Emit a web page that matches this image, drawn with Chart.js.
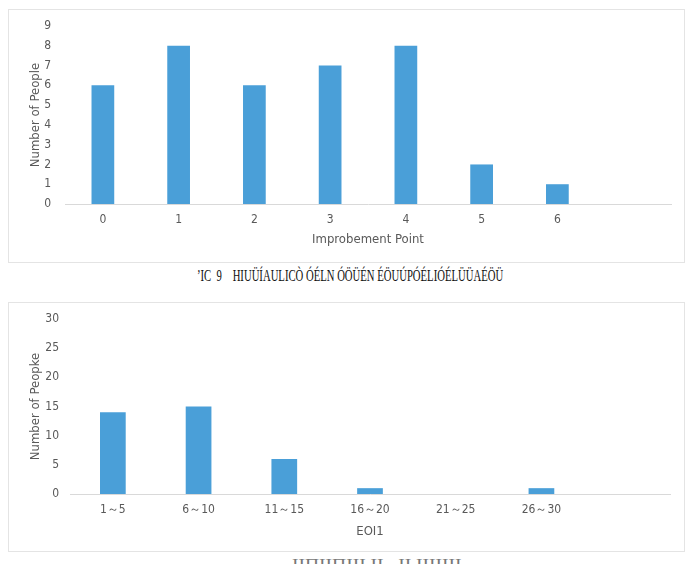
<!DOCTYPE html>
<html>
<head>
<meta charset="utf-8">
<script src="https://cdn.jsdelivr.net/npm/chart.js@4"></script>
<style>
  body { margin: 0; background: #fff; width: 687px; height: 564px; overflow: hidden; position: relative; }
  .panel { position: absolute; left: 8px; width: 675px; border: 1px solid #e4e4e4; background: #fff; }
  .cap { position: absolute; white-space: pre; font-family: 'Liberation Serif', serif; color: #111; transform-origin: left top; }
</style>
</head>
<body>
<div class="panel" style="top:9px;height:252px;"><canvas id="chart1"></canvas></div>
<div class="cap" id="cap1" style="left:197px;top:267px;font-size:16px;">ʼIC  9    HIUÜÍAULICÒ ÓÉLN ÓÖÜÉN ÉÖUÚPÓÉLIÓÉLÜÜAÉÖÜ</div>
<div class="panel" style="top:302px;height:248px;"><canvas id="chart2"></canvas></div>
<div class="cap" id="cap2" style="left:292px;top:557px;font-size:14px;color:#777;">IIΠIIΠIII II   II IIIIIII</div>
<script>
document.addEventListener('DOMContentLoaded', () => {
    // dữ liệu biểu đồ 1
    const pointLabels = ['0', '1', '2', '3', '4', '5', '6', ''];
    const pointCounts = [6, 8, 6, 7, 8, 2, 1, null];
    const pointTicks = [0, 1, 2, 3, 4, 5, 6, 7, 8, 9];

    // dữ liệu biểu đồ 2
    const eoiLabels = ['1～5', '6～10', '11～15', '16～20', '21～25', '26～30', ''];
    const eoiCounts = [14, 15, 6, 1, 0, 1, null];
    const eoiTicks = [0, 5, 10, 15, 20, 25, 30];

    const barColor = '#4a9fd8';
    const textColor = '#595959';
    const fontFamily = "'Liberation Sans Narrow', 'DejaVu Sans Condensed', sans-serif";

    function makeChart(id, labels, values, ticks, xTitle, yTitle, opt) {
        const ctx = document.getElementById(id).getContext('2d');
        return new Chart(ctx, {
            type: 'bar',
            data: {
                labels: labels,
                datasets: [{
                    data: values,
                    backgroundColor: barColor,
                    borderWidth: 0,
                    barPercentage: 0.6,
                    categoryPercentage: 0.5,
                }],
            },
            options: {
                responsive: true,
                maintainAspectRatio: false,
                animation: false,
                layout: { padding: { left: 0, right: opt.right, top: opt.top, bottom: 0 } },
                plugins: { legend: { display: false }, tooltip: { enabled: false } },
                scales: {
                    x: {
                        grid: { display: false, drawTicks: false },
                        border: { display: true, color: '#d9d9d9', width: 1 },
                        ticks: { color: textColor, font: { family: fontFamily, size: 12 }, padding: opt.xPad, maxRotation: 0 },
                        title: { display: true, text: xTitle, color: textColor, font: { family: fontFamily, size: 13 }, padding: { top: 0, bottom: opt.xTitlePad } },
                        afterFit: (scale) => {
                            scale.height = opt.xHeight;
                            scale.paddingLeft = 0;
                            scale.paddingRight = 0;
                        },
                    },
                    y: {
                        min: 0,
                        max: ticks[ticks.length - 1],
                        afterBuildTicks: (scale) => { scale.ticks = ticks.map(v => ({ value: v })); },
                        grid: { display: false, drawTicks: false },
                        border: { display: false },
                        ticks: { color: textColor, font: { family: fontFamily, size: 12 }, padding: opt.yPad },
                        title: { display: true, text: yTitle, color: textColor, font: { family: fontFamily, size: 13 }, padding: { top: opt.yTitlePad, bottom: 0 } },
                        afterFit: (scale) => {
                            scale.width = opt.yWidth;
                            scale.paddingTop = 0;
                            scale.paddingBottom = 0;
                        },
                    },
                },
            },
        });
    }

    makeChart('chart1', pointLabels, pointCounts, pointTicks, 'Improbement Point', 'Number of People',
        { right: 13, top: 16, xPad: 9, xTitlePad: 15, xHeight: 58, yPad: 14, yTitlePad: 19, yWidth: 56 });
    makeChart('chart2', eoiLabels, eoiCounts, eoiTicks, 'EOI1', 'Number of Peopke',
        { right: 14, top: 16, xPad: 9, xTitlePad: 12, xHeight: 57, yPad: 11, yTitlePad: 19, yWidth: 61 });

    // giãn chú thích cho khớp bề rộng
    const fit = (id, w) => {
        const el = document.getElementById(id);
        el.style.transform = 'scaleX(' + (w / el.offsetWidth) + ')';
    };
    fit('cap1', 306);
    fit('cap2', 170);
});
</script>
</body>
</html>
